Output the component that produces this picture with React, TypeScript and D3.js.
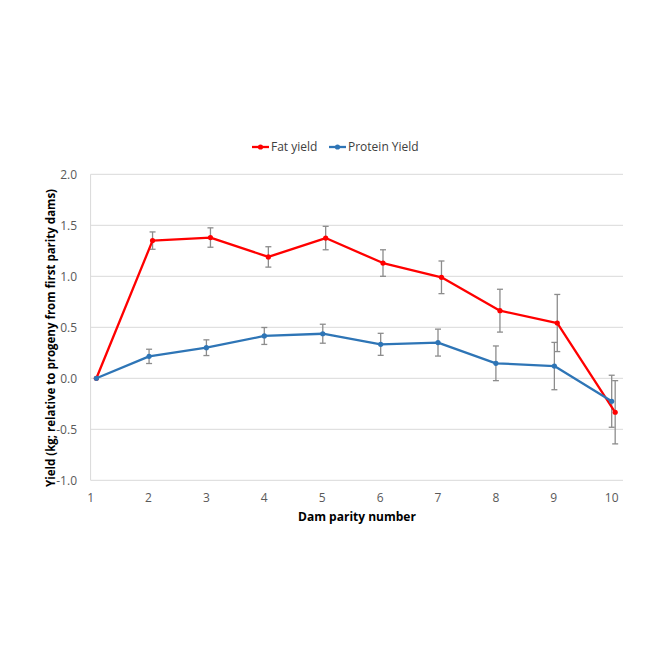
import * as d3 from 'd3';

// parity numbers and plotted x positions (Excel nudged the series apart a little)
const parity = [1, 2, 3, 4, 5, 6, 7, 8, 9, 10];
const fatX = [1.1, 2.07, 3.07, 4.07, 5.06, 6.05, 7.06, 8.07, 9.06, 10.06];
const proteinX = [1.1, 2.01, 3.0, 4.0, 5.01, 6.01, 7.0, 8.0, 9.01, 10.0];

const fatYield = [0, 1.35, 1.38, 1.19, 1.375, 1.13, 0.99, 0.663, 0.542, -0.333];
const fatErr = [0, 0.085, 0.095, 0.1, 0.115, 0.13, 0.16, 0.21, 0.28, 0.31];
const proteinYield = [0, 0.215, 0.3, 0.415, 0.437, 0.333, 0.35, 0.147, 0.12, -0.225];
const proteinErr = [0, 0.07, 0.077, 0.083, 0.093, 0.108, 0.132, 0.17, 0.232, 0.255];

const yTicks = [-1.0, -0.5, 0.0, 0.5, 1.0, 1.5, 2.0];

const W = 663;
const H = 663;
const FONT = '"Open Sans", "Liberation Sans", sans-serif';
const FAT_COLOR = '#ff0000';
const PROT_COLOR = '#2e75b6';
const ERR_COLOR = '#8c8c8c';

export default function App() {
  const x = d3.scaleLinear().domain([1, 10]).range([90.6, 611.7]);
  const y = d3.scaleLinear().domain([-1, 2]).range([480.3, 174.3]);
  const plotRight = 623;

  const series = [
    { name: 'Fat yield', color: FAT_COLOR, xs: fatX, ys: fatYield, err: fatErr },
    { name: 'Protein Yield', color: PROT_COLOR, xs: proteinX, ys: proteinYield, err: proteinErr },
  ];

  const line = d3
    .line<[number, number]>()
    .x((d) => x(d[0]))
    .y((d) => y(d[1]));

  const legendItems = [
    { name: 'Fat yield', color: FAT_COLOR, x0: 252 },
    { name: 'Protein Yield', color: PROT_COLOR, x0: 329 },
  ];

  return (
    <svg width={W} height={H} style={{ position: 'absolute', left: 0, top: 0, background: '#fff' }}>
      {/* gridlines */}
      {yTicks.map((t) => (
        <line key={t} x1={x(1)} x2={plotRight} y1={y(t)} y2={y(t)} stroke="#d9d9d9" strokeWidth={1} />
      ))}
      <line x1={x(1)} x2={x(1)} y1={y(2)} y2={y(-1)} stroke="#d9d9d9" strokeWidth={1} />

      {/* y tick labels */}
      {yTicks.map((t) => (
        <text
          key={t}
          x={77}
          y={y(t)}
          dy="0.35em"
          textAnchor="end"
          fill="#595959"
          fontFamily={FONT}
          fontSize={12}
        >
          {t.toFixed(1)}
        </text>
      ))}

      {/* x tick labels */}
      {parity.map((p) => (
        <text
          key={p}
          x={x(p)}
          y={502}
          textAnchor="middle"
          fill="#595959"
          fontFamily={FONT}
          fontSize={12}
        >
          {p}
        </text>
      ))}

      {/* axis titles */}
      <text
        x={357}
        y={521}
        textAnchor="middle"
        fill="#000"
        fontFamily={FONT}
        fontSize={12}
        fontWeight="bold"
      >
        Dam parity number
      </text>
      <text
        transform={`translate(51,338) rotate(-90)`}
        textAnchor="middle"
        dy="0.35em"
        fill="#000"
        fontFamily={FONT}
        fontSize={11.5}
        fontWeight="bold"
      >
        Yield (kg; relative to progeny from first parity dams)
      </text>

      {/* error bars */}
      {series.map((s) =>
        s.ys.map((v, i) =>
          s.err[i] > 0 ? (
            <g key={s.name + i} stroke={ERR_COLOR} strokeWidth={1.3}>
              <line x1={x(s.xs[i])} x2={x(s.xs[i])} y1={y(v + s.err[i])} y2={y(v - s.err[i])} />
              <line x1={x(s.xs[i]) - 3} x2={x(s.xs[i]) + 3} y1={y(v + s.err[i])} y2={y(v + s.err[i])} />
              <line x1={x(s.xs[i]) - 3} x2={x(s.xs[i]) + 3} y1={y(v - s.err[i])} y2={y(v - s.err[i])} />
            </g>
          ) : null,
        ),
      )}

      {/* lines and markers */}
      {series.map((s) => (
        <g key={s.name}>
          <path
            d={line(s.ys.map((v, i) => [s.xs[i], v] as [number, number])) ?? ''}
            fill="none"
            stroke={s.color}
            strokeWidth={2.3}
            strokeLinejoin="round"
          />
          {s.ys.map((v, i) => (
            <circle key={i} cx={x(s.xs[i])} cy={y(v)} r={2.6} fill={s.color} />
          ))}
        </g>
      ))}

      {/* legend */}
      {legendItems.map((l) => (
        <g key={l.name}>
          <line x1={l.x0} x2={l.x0 + 17} y1={147} y2={147} stroke={l.color} strokeWidth={2.3} />
          <circle cx={l.x0 + 8.5} cy={147} r={2.6} fill={l.color} />
          <text x={l.x0 + 19} y={147} dy="0.35em" fill="#404040" fontFamily={FONT} fontSize={12}>
            {l.name}
          </text>
        </g>
      ))}
    </svg>
  );
}
